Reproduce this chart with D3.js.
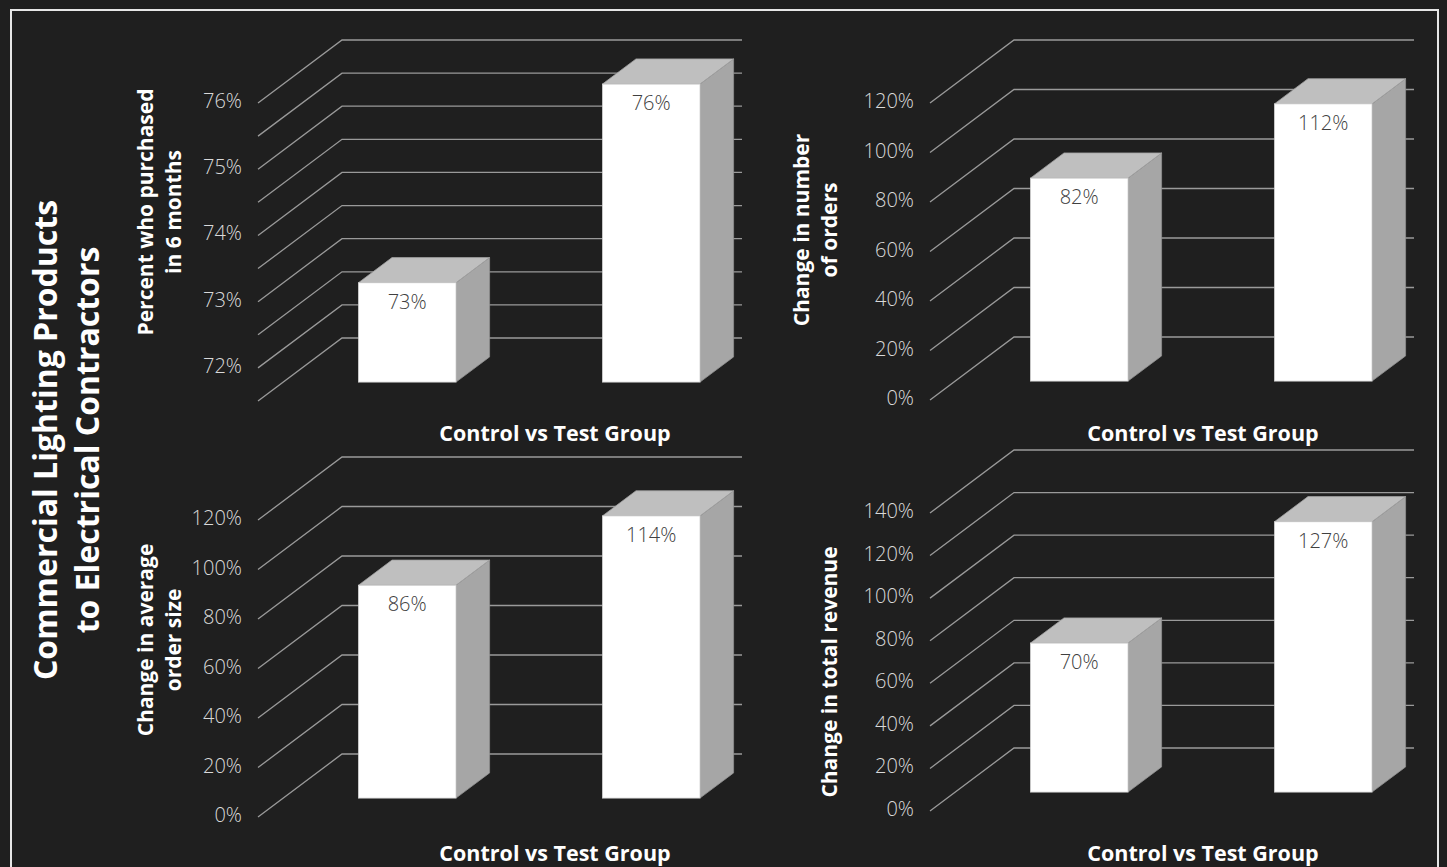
<!DOCTYPE html>
<html>
<head>
<meta charset="utf-8">
<script src="https://cdn.jsdelivr.net/npm/d3@7"></script>
<style>
  html, body { margin: 0; padding: 0; background: #1f1f1f; }
  svg { display: block; font-family: "Open Sans", sans-serif; }
</style>
</head>
<body>
<svg id="chart" width="1447" height="867"></svg>
<script>
// categories shared by the four panels
var categories = ["Control", "Test"];

// series values (percent)
var purchasedValues = [73, 76];
var ordersValues = [82, 112];
var orderSizeValues = [86, 114];
var revenueValues = [70, 127];

// gridlines and tick labels
var purchasedGrid = [71.5, 72, 72.5, 73, 73.5, 74, 74.5, 75, 75.5, 76];
var purchasedTicks = [72, 73, 74, 75, 76];
var ordersTicks = [0, 20, 40, 60, 80, 100, 120];
var orderSizeTicks = [0, 20, 40, 60, 80, 100, 120];
var revenueTicks = [0, 20, 40, 60, 80, 100, 120, 140];

var titleLines = ["Commercial Lighting Products", "to Electrical Contractors"];
var xTitle = "Control vs Test Group";

var svg = d3.select("#chart");

// depth of the 3d box, and where the columns sit inside it
var DX = 84, DY = 63;
var depthFront = 0.3, depthBack = 0.7;

svg.append("rect")
	.attr("x", 11)
	.attr("y", 10)
	.attr("width", 1427)
	.attr("height", 900)
	.attr("fill", "none")
	.attr("stroke", "#e6e6e6")
	.attr("stroke-width", 2);

// 1. main title, rotated on the left
var title = svg.append("text")
	.attr("transform", "translate(0,440) rotate(-90)")
	.attr("text-anchor", "middle")
	.attr("fill", "#ffffff")
	.attr("font-weight", "bold")
	.attr("font-size", 32);

title.selectAll("tspan")
	.data(titleLines)
	.enter()
	.append("tspan")
	.attr("x", 0)
	.attr("y", function(d, i) { return i == 0 ? 57 : 99; })
	.text(function(d) { return d; });

// 2. one 3d column chart
function drawPanel(cfg) {
	var g = svg.append("g");

	var y = d3.scaleLinear()
		.domain(cfg.domain)
		.range([cfg.bottom, cfg.top]);

	var x = d3.scaleBand()
		.domain(categories)
		.range([cfg.left + 2, cfg.left + 490])
		.paddingInner(0.6)
		.paddingOuter(0.3);

	// wall gridlines: diagonal on the side wall, then straight on the back wall
	g.selectAll("path.grid")
		.data(cfg.grid)
		.enter()
		.append("path")
		.attr("class", "grid")
		.attr("d", function(d) {
			var y0 = y(d);
			return "M" + cfg.left + "," + y0 +
				"L" + (cfg.left + DX) + "," + (y0 - DY) +
				"L" + (cfg.left + 484) + "," + (y0 - DY);
		})
		.attr("fill", "none")
		.attr("stroke", "#9a9a9a")
		.attr("stroke-width", 1.3);

	// tick labels
	g.selectAll("text.tick")
		.data(cfg.ticks)
		.enter()
		.append("text")
		.attr("class", "tick")
		.attr("x", cfg.left - 16)
		.attr("y", function(d) { return y(d) - 2; })
		.attr("dy", "0.35em")
		.attr("text-anchor", "end")
		.attr("fill", "#d9d9d9")
		.attr("font-size", 20)
		.attr("font-weight", 300)
		.text(function(d) { return d + "%"; });

	var fx = depthFront * DX, fy = depthFront * DY;
	var sx = (depthBack - depthFront) * DX, sy = (depthBack - depthFront) * DY;
	var base = y(cfg.domain[0]) - fy;
	var bw = x.bandwidth();

	var bars = g.selectAll("g.bar")
		.data(cfg.values)
		.enter()
		.append("g")
		.attr("class", "bar");

	// side face
	bars.append("polygon")
		.attr("points", function(d, i) {
			var x0 = x(categories[i]) + fx + bw, t = y(d) - fy;
			return [[x0, t], [x0 + sx, t - sy], [x0 + sx, base - sy], [x0, base]].join(" ");
		})
		.attr("fill", "#a6a6a6")
		.attr("stroke", "#8f8f8f")
		.attr("stroke-width", 0.8);

	// top face
	bars.append("polygon")
		.attr("points", function(d, i) {
			var x0 = x(categories[i]) + fx, t = y(d) - fy;
			return [[x0, t], [x0 + sx, t - sy], [x0 + bw + sx, t - sy], [x0 + bw, t]].join(" ");
		})
		.attr("fill", "#bfbfbf")
		.attr("stroke", "#a0a0a0")
		.attr("stroke-width", 0.8);

	// front face
	bars.append("rect")
		.attr("x", function(d, i) { return x(categories[i]) + fx; })
		.attr("y", function(d) { return y(d) - fy; })
		.attr("width", bw)
		.attr("height", function(d) { return base - (y(d) - fy); })
		.attr("fill", "#ffffff")
		.attr("stroke", "#d0d0d0")
		.attr("stroke-width", 0.8);

	// value labels
	bars.append("text")
		.attr("x", function(d, i) { return x(categories[i]) + fx + bw / 2; })
		.attr("y", function(d) { return y(d) - fy + 19; })
		.attr("dy", "0.35em")
		.attr("text-anchor", "middle")
		.attr("fill", "#404040")
		.attr("font-size", 20)
		.attr("font-weight", 300)
		.text(function(d) { return d + "%"; });

	// category axis title
	g.append("text")
		.attr("x", cfg.xTitleX)
		.attr("y", cfg.xTitleY)
		.attr("text-anchor", "middle")
		.attr("fill", "#ffffff")
		.attr("font-weight", "bold")
		.attr("font-size", 21.5)
		.text(xTitle);

	// value axis title
	var yt = g.append("text")
		.attr("transform", "translate(0," + cfg.yTitleY + ") rotate(-90)")
		.attr("text-anchor", "middle")
		.attr("fill", "#ffffff")
		.attr("font-weight", "bold")
		.attr("font-size", 21);

	yt.selectAll("tspan")
		.data(cfg.yTitle)
		.enter()
		.append("tspan")
		.attr("x", 0)
		.attr("y", function(d, i) { return cfg.yTitleX[i]; })
		.text(function(d) { return d; });
}

drawPanel({
	values: purchasedValues, grid: purchasedGrid, ticks: purchasedTicks,
	domain: [71.5, 76], left: 258, bottom: 401, top: 103,
	yTitle: ["Percent who purchased", "in 6 months"], yTitleX: [153, 181], yTitleY: 212,
	xTitleX: 555, xTitleY: 441
});

drawPanel({
	values: ordersValues, grid: ordersTicks, ticks: ordersTicks,
	domain: [0, 120], left: 930, bottom: 400, top: 103,
	yTitle: ["Change in number", "of orders"], yTitleX: [809, 837], yTitleY: 230,
	xTitleX: 1203, xTitleY: 441
});

drawPanel({
	values: orderSizeValues, grid: orderSizeTicks, ticks: orderSizeTicks,
	domain: [0, 120], left: 258, bottom: 817, top: 520,
	yTitle: ["Change in average", "order size"], yTitleX: [153, 181], yTitleY: 640,
	xTitleX: 555, xTitleY: 861
});

drawPanel({
	values: revenueValues, grid: revenueTicks, ticks: revenueTicks,
	domain: [0, 140], left: 930, bottom: 811, top: 513,
	yTitle: ["Change in total revenue"], yTitleX: [837], yTitleY: 672,
	xTitleX: 1203, xTitleY: 861
});
</script>
</body>
</html>
